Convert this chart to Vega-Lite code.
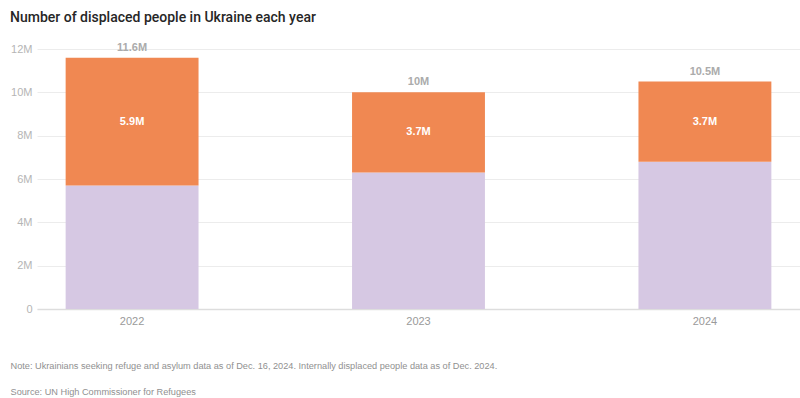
{
  "$schema": "https://vega.github.io/schema/vega-lite/v6.json",
  "autosize": {"type": "none"},
  "padding": {"left": 37, "top": 49, "right": 0, "bottom": 89},
  "width": 763,
  "height": 260,
  "background": "white",
  "config": {
    "view": {"stroke": null},
    "font": "Liberation Sans",
    "axis": {"labelFont": "Liberation Sans", "titleFont": "Liberation Sans"}
  },
  "title": {
    "text": "Number of displaced people in Ukraine each year",
    "anchor": "start",
    "frame": "group",
    "dx": -27,
    "offset": 17,
    "font": "Roboto",
    "fontSize": 14,
    "fontWeight": 500,
    "color": "#262626"
  },
  "data": {
    "values": [
      {"year": "2022", "type": "Internally displaced", "value": 5700000},
      {"year": "2022", "type": "Refugees", "value": 5900000},
      {"year": "2023", "type": "Internally displaced", "value": 6300000},
      {"year": "2023", "type": "Refugees", "value": 3700000},
      {"year": "2024", "type": "Internally displaced", "value": 6800000},
      {"year": "2024", "type": "Refugees", "value": 3700000}
    ]
  },
  "encoding": {
    "x": {
      "field": "year",
      "type": "nominal",
      "scale": {"paddingInner": 0.536, "paddingOuter": 0.1},
      "axis": {
        "labelAngle": 0,
        "labelColor": "#9a9a9a",
        "labelFontSize": 11,
        "labelPadding": 6,
        "ticks": false,
        "domainColor": "#dddddd",
        "domainWidth": 1.5,
        "title": ["Note: Ukrainians seeking refuge and asylum data as of Dec. 16, 2024. Internally displaced people data as of Dec. 2024.", "Source: UN High Commissioner for Refugees"],
        "titleX": -27,
        "titleY": 59,
        "titleAlign": "left",
        "titleAnchor": "start",
        "titleBaseline": "alphabetic",
        "titleLineHeight": 26,
        "titleFontSize": 9.2,
        "titleFontWeight": "normal",
        "titleColor": "#909090"
      }
    }
  },
  "layer": [
    {
      "mark": {"type": "bar"},
      "encoding": {
        "y": {
          "field": "value",
          "type": "quantitative",
          "stack": "zero",
          "scale": {"domain": [0, 12000000]},
          "axis": {
            "title": null,
            "format": "~s",
            "labelExpr": "datum.value === 0 ? '0' : datum.label",
            "values": [0, 2000000, 4000000, 6000000, 8000000, 10000000, 12000000],
            "labelColor": "#b5b5b5",
            "labelFontSize": 11,
            "labelPadding": 5,
            "ticks": false,
            "domain": false,
            "gridColor": "#ececec",
            "gridWidth": 1
          }
        },
        "color": {
          "field": "type",
          "type": "nominal",
          "scale": {"domain": ["Internally displaced", "Refugees"], "range": ["#d6c8e3", "#f08852"]},
          "legend": null
        },
        "order": {"field": "type", "sort": "ascending"}
      }
    },
    {
      "transform": [
        {"stack": "value", "groupby": ["year"], "sort": [{"field": "type", "order": "ascending"}], "as": ["v0", "v1"]},
        {"filter": "datum.type === 'Refugees'"},
        {"fold": ["v0", "v1"], "as": ["edge", "pos"]}
      ],
      "mark": {"type": "text", "color": "white", "fontWeight": "bold", "fontSize": 11, "baseline": "middle"},
      "encoding": {
        "y": {"aggregate": "mean", "field": "pos", "type": "quantitative"},
        "text": {"aggregate": "max", "field": "value", "type": "quantitative", "format": ".3~s"}
      }
    },
    {
      "mark": {"type": "text", "color": "#ababab", "fontWeight": "bold", "fontSize": 11, "baseline": "bottom", "dy": -5},
      "encoding": {
        "y": {"aggregate": "sum", "field": "value", "type": "quantitative"},
        "text": {"aggregate": "sum", "field": "value", "type": "quantitative", "format": ".3~s"}
      }
    }
  ]
}
